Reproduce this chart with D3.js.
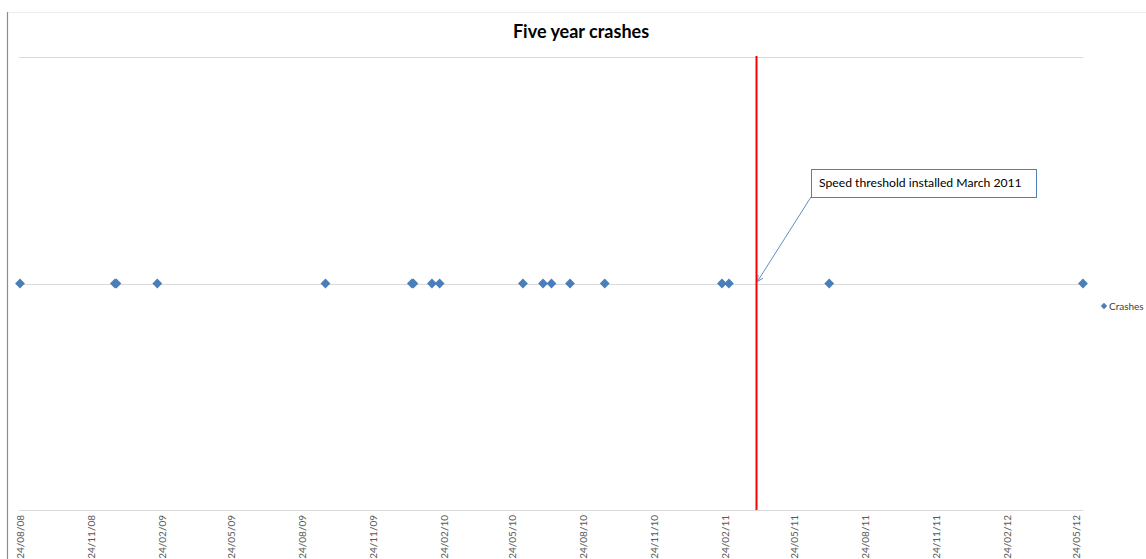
<!DOCTYPE html>
<html>
<head>
<meta charset="utf-8">
<script src="https://cdnjs.cloudflare.com/ajax/libs/d3/7.8.5/d3.min.js"></script>
<style>
  html, body { margin: 0; padding: 0; background: #fff; }
  svg { display: block; font-family: Lato, "Open Sans", "Liberation Sans", sans-serif; }
</style>
</head>
<body>
<svg id="chart" width="1146" height="559"></svg>
<script>
// Crash dates over the five-year window (one marker per crash)
const crashDates = [
  "2008-08-24", "2008-12-25", "2008-12-27", "2009-02-18", "2009-09-24",
  "2010-01-14", "2010-01-16", "2010-02-09", "2010-02-19", "2010-06-07",
  "2010-07-03", "2010-07-14", "2010-08-07", "2010-09-21", "2011-02-20",
  "2011-03-01", "2011-07-09", "2012-06-02"
];
const crashValues = crashDates.map(() => 1);
const seriesName = "Crashes";
const axisStart = "2008-08-24";
const axisEnd = "2012-06-02";
const tickMonthStep = 3;
const thresholdDate = "2011-04-05";
const thresholdLabel = "Speed threshold installed March 2011";
const chartTitle = "Five year crashes";
const yDomain = [0, 2];
const yGridValues = [0, 1, 2];

const parse = d3.timeParse("%Y-%m-%d");
const fmt = d3.timeFormat("%d/%m/%y");
const svg = d3.select("#chart");

const plot = { left: 20, right: 1083, top: 57, bottom: 510 };

const x = d3.scaleTime()
  .domain([parse(axisStart), parse(axisEnd)])
  .range([plot.left, plot.right]);
const y = d3.scaleLinear().domain(yDomain).range([plot.bottom, plot.top]);

// chart frame edges
svg.append("line").attr("x1", 7.5).attr("x2", 1146).attr("y1", 12.5).attr("y2", 12.5)
  .attr("stroke", "#ececec").attr("stroke-width", 1);
svg.append("line").attr("x1", 7.5).attr("x2", 7.5).attr("y1", 12).attr("y2", 559)
  .attr("stroke", "#8c8c8c").attr("stroke-width", 1.2);

// title
svg.append("text").attr("x", 581).attr("y", 38).attr("text-anchor", "middle")
  .attr("font-size", 18).attr("font-weight", "bold").attr("fill", "#000")
  .text(chartTitle);

// horizontal gridlines
svg.append("g").selectAll("line").data(yGridValues).join("line")
  .attr("x1", plot.left - 1).attr("x2", plot.right)
  .attr("y1", d => Math.round(y(d)) + 0.5).attr("y2", d => Math.round(y(d)) + 0.5)
  .attr("stroke", "#d9d9d9").attr("stroke-width", 1);

// x axis ticks every three months from the axis start
const ticks = [];
for (let t = parse(axisStart); t <= x.domain()[1]; t = d3.timeMonth.offset(t, tickMonthStep)) ticks.push(t);

const xAxis = d3.axisBottom(x).tickValues(ticks).tickFormat(fmt).tickSize(0).tickPadding(0);
const gx = svg.append("g").attr("transform", `translate(0,${plot.bottom})`).call(xAxis);
gx.select(".domain").remove();
gx.selectAll("text")
  .attr("font-family", "Lato, 'Open Sans', sans-serif")
  .attr("font-size", 10).attr("fill", "#595959")
  .attr("text-anchor", "end")
  .attr("dy", null)
  .attr("transform", "translate(3.5,5) rotate(-90)")
  .attr("x", 0).attr("y", 0);

// threshold marker
const tx = Math.round(x(parse(thresholdDate))) + 0.5;
svg.append("line").attr("x1", tx).attr("x2", tx).attr("y1", plot.top - 1).attr("y2", plot.bottom)
  .attr("stroke", "#ff0000").attr("stroke-width", 2);

// crash markers: squares turned 45 degrees
const diamond = d3.symbol().type(d3.symbolSquare).size(48);
svg.append("g").selectAll("path").data(crashDates.map((d, i) => ({ date: parse(d), value: crashValues[i] })))
  .join("path")
  .attr("d", diamond)
  .attr("transform", d => `translate(${x(d.date)},${y(d.value)}) rotate(45)`)
  .attr("fill", "#4a7ebb");

// callout box with leader arrow
const box = { x: 811, y: 169, w: 225, h: 28 };
svg.append("defs").append("marker")
  .attr("id", "arrow").attr("viewBox", "0 0 10 10").attr("refX", 9).attr("refY", 5)
  .attr("markerWidth", 8).attr("markerHeight", 8).attr("orient", "auto")
  .append("path").attr("d", "M1,1 L9,5 L1,9").attr("fill", "none")
  .attr("stroke", "#4f81bd").attr("stroke-width", 1.2);
svg.append("line")
  .attr("x1", box.x).attr("y1", box.y + box.h)
  .attr("x2", x(parse(thresholdDate)) + 1.5).attr("y2", y(1) - 2)
  .attr("stroke", "#4f81bd").attr("stroke-width", 0.9)
  .attr("marker-end", "url(#arrow)");
svg.append("rect").attr("x", box.x + 0.5).attr("y", box.y + 0.5).attr("width", box.w).attr("height", box.h)
  .attr("fill", "#fff").attr("stroke", "#4f81bd").attr("stroke-width", 1);
svg.append("text").attr("x", box.x + 8).attr("y", box.y + 18)
  .attr("font-size", 12.2).attr("fill", "#000").text(thresholdLabel);

// legend
const lg = svg.append("g").attr("transform", "translate(1104,306)");
lg.append("path").attr("d", d3.symbol().type(d3.symbolSquare).size(20)).attr("transform", "rotate(45)").attr("fill", "#4a7ebb");
lg.append("text").attr("x", 5).attr("y", 3.5).attr("font-size", 10).attr("fill", "#404040").text(seriesName);
</script>
</body>
</html>
